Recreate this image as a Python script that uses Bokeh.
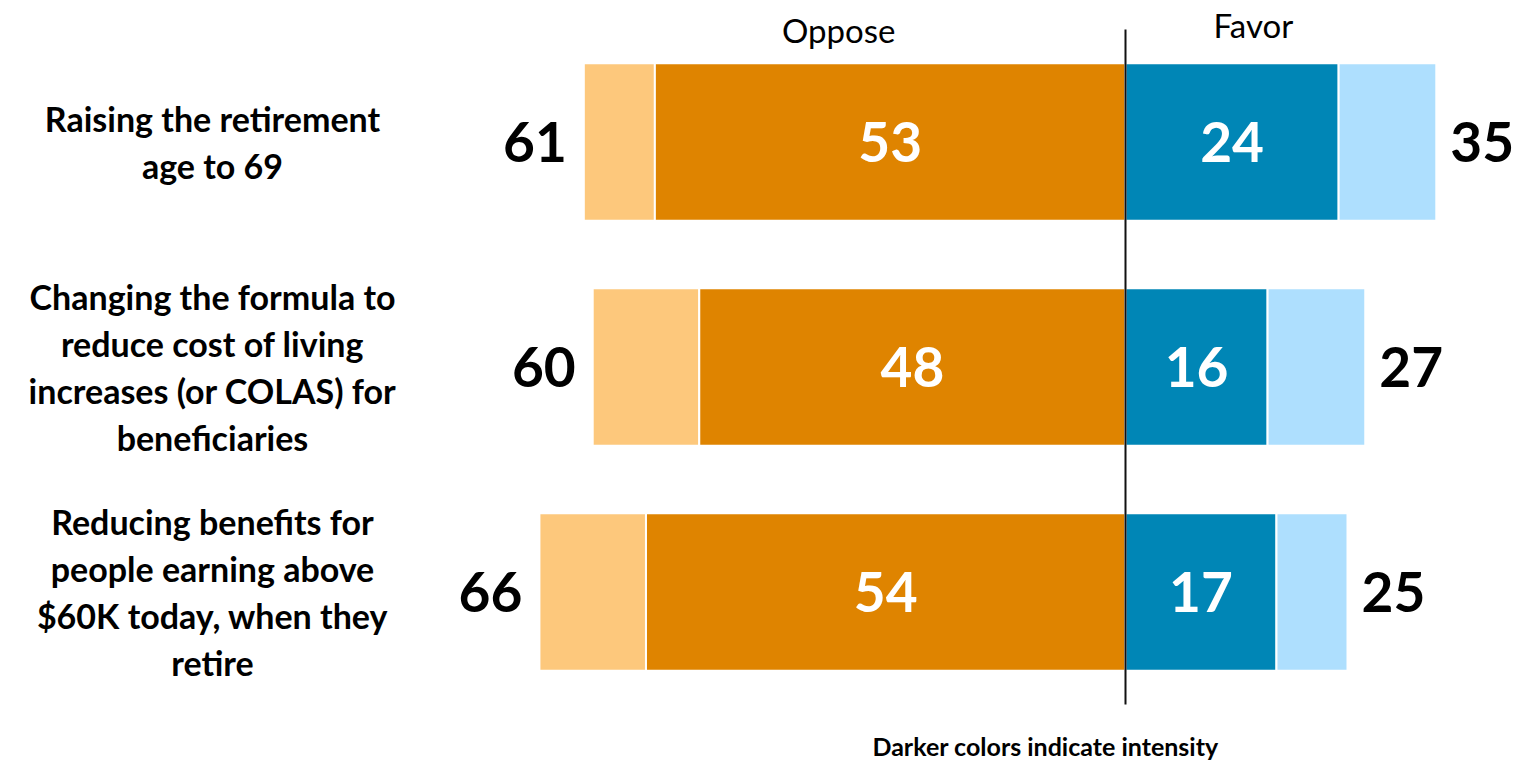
from bokeh.plotting import figure
from bokeh.models import Range1d, ColumnDataSource
from bokeh.core.properties import value
from bokeh.embed import file_html
from bokeh.resources import INLINE

# ---- data ----
categories = [
    "Raising the retirement\nage to 69",
    "Changing the formula to\nreduce cost of living\nincreases (or COLAS) for\nbeneficiaries",
    "Reducing benefits for\npeople earning above\n$60K today, when they\nretire",
]
oppose_total = [61, 60, 66]
oppose_strong = [53, 48, 54]
favor_strong = [24, 16, 17]
favor_total = [35, 27, 25]
header_labels = ["Oppose", "Favor"]
footer_text = "Darker colors indicate intensity"

# ---- colours ----
LIGHT_ORANGE = "#FDC87C"
DARK_ORANGE = "#DF8400"
DARK_BLUE = "#0086B6"
LIGHT_BLUE = "#AEDFFE"
FONT = "Lato"

W, H = 1515, 760
PX_PER_UNIT = 8.88
ZERO_PX = 1125.0
ROW_PX = 225.0
FIRST_ROW_PX = 141.5

n = len(categories)
rows = list(range(n))

p = figure(
    width=W, height=H, output_backend="svg", toolbar_location=None,
    x_range=Range1d(-ZERO_PX / PX_PER_UNIT, (W - ZERO_PX) / PX_PER_UNIT),
    y_range=Range1d((H - FIRST_ROW_PX) / ROW_PX, -FIRST_ROW_PX / ROW_PX),
    min_border=0, outline_line_color=None,
)
p.axis.visible = False
p.grid.visible = False
p.background_fill_color = "white"
p.border_fill_color = "white"

src = ColumnDataSource(dict(
    y=rows,
    cat=categories,
    ot_l=[-v for v in oppose_total],
    os_l=[-v for v in oppose_strong],
    os_mid=[-v / 2 for v in oppose_strong],
    fs=favor_strong,
    fs_mid=[v / 2 for v in favor_strong],
    ft=favor_total,
    ot_txt=[str(v) for v in oppose_total],
    os_txt=[str(v) for v in oppose_strong],
    fs_txt=[str(v) for v in favor_strong],
    ft_txt=[str(v) for v in favor_total],
    zero=[0] * n,
))

BAR_H = 0.70
p.hbar(y="y", left="ot_l", right="os_l", height=BAR_H, source=src,
       fill_color=LIGHT_ORANGE, line_color="white", line_width=2)
p.hbar(y="y", left="os_l", right="zero", height=BAR_H, source=src,
       fill_color=DARK_ORANGE, line_color="white", line_width=2)
p.hbar(y="y", left="zero", right="fs", height=BAR_H, source=src,
       fill_color=DARK_BLUE, line_color="white", line_width=2)
p.hbar(y="y", left="fs", right="ft", height=BAR_H, source=src,
       fill_color=LIGHT_BLUE, line_color="white", line_width=2)

# centre line
p.segment(x0=[0], y0=[-0.5], x1=[0], y1=[n - 0.5], line_color="#111111", line_width=2)

NUM_SIZE = "55px"
# totals outside the bars
p.text(x="ot_l", y="y", text="ot_txt", source=src, text_align="right",
       text_baseline="middle", x_offset=-17, text_font=value(FONT),
       text_font_style="bold", text_font_size=NUM_SIZE, text_color="black")
p.text(x="ft", y="y", text="ft_txt", source=src, text_align="left",
       text_baseline="middle", x_offset=14, text_font=value(FONT),
       text_font_style="bold", text_font_size=NUM_SIZE, text_color="black")
# strong values inside
p.text(x="os_mid", y="y", text="os_txt", source=src, text_align="center",
       text_baseline="middle", text_font=value(FONT),
       text_font_style="bold", text_font_size=NUM_SIZE, text_color="white")
p.text(x="fs_mid", y="y", text="fs_txt", source=src, text_align="center",
       text_baseline="middle", text_font=value(FONT),
       text_font_style="bold", text_font_size=NUM_SIZE, text_color="white")

# category labels
p.text(x=[(212 - ZERO_PX) / PX_PER_UNIT] * n, y=rows, text=categories,
       text_align="center", text_baseline="middle", text_font=value(FONT),
       text_font_style="bold", text_font_size="34px", text_color="black",
       text_line_height=1.15)

# headers
p.text(x=[-32.3, 14.4], y=[-0.496, -0.518], text=header_labels,
       text_align="center", text_baseline="middle", text_font=value(FONT),
       text_font_size="33px", text_color="black")

# footer
p.text(x=[-9.0], y=[2.685], text=[footer_text], text_align="center",
       text_baseline="middle", text_font=value(FONT), text_font_style="bold",
       text_font_size="25px", text_color="black")

open("out.html", "w").write(file_html(p, INLINE))
